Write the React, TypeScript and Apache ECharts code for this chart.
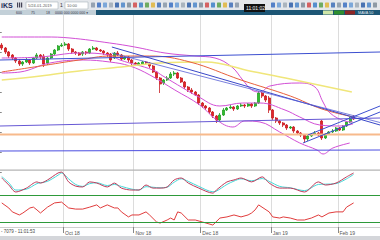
import React, { useEffect, useRef } from "react";
import * as echarts from "echarts";

// ---- candle data (price units) ----
const opens = [
  167, 164, 160, 157, 154, 151, 148, 150, 152, 149,
  154, 157, 156, 149, 154, 158, 162, 166, 167, 168,
  163, 160, 159, 158, 160, 159, 163, 164, 162, 161,
  159, 158, 154, 159, 157, 153, 155, 152, 149, 147,
  148, 150, 149, 146, 140, 134, 129, 132, 134, 138,
  139, 134, 130, 125, 122, 120, 117, 109, 106, 104,
  100, 96, 92, 97, 102, 104, 105, 103, 106, 107,
  106, 108, 106, 109, 119, 116, 114, 102, 94, 91,
  89, 87, 84, 85, 81, 79, 77, 73, 76, 78,
  79, 91, 74, 78, 80, 81, 84, 82, 86, 90, 95,
];
const closes = [
  164, 160, 156, 154, 151, 148, 150, 152, 149, 154,
  157, 155, 148, 154, 158, 162, 166, 167, 168, 163,
  160, 159, 157, 160, 159, 163, 164, 162, 161, 159,
  157, 152, 159, 157, 153, 155, 152, 149, 148, 149,
  150, 149, 146, 140, 134, 128, 132, 134, 138, 139,
  134, 130, 125, 122, 120, 117, 109, 106, 104, 100,
  96, 92, 97, 102, 104, 105, 103, 106, 107, 106,
  108, 106, 109, 119, 116, 112, 102, 94, 91, 89,
  87, 84, 85, 81, 79, 77, 73, 76, 78, 79,
  77, 74, 78, 80, 81, 84, 82, 86, 90, 94, 93,
];
const lows = [
  162, 158, 154, 152, 149, 146, 146, 149, 147, 148,
  153, 153, 145, 147, 153, 157, 161, 165, 166, 161,
  158, 157, 156, 156, 157, 158, 162, 161, 160, 157,
  155, 150, 153, 156, 151, 152, 150, 146, 146, 146,
  147, 148, 144, 139, 132, 119, 127, 131, 133, 136,
  133, 129, 123, 120, 118, 116, 107, 104, 102, 98,
  94, 89, 91, 96, 101, 103, 101, 102, 105, 104,
  105, 104, 105, 108, 114, 110, 99, 92, 89, 87,
  85, 82, 83, 79, 77, 75, 69, 71, 75, 77,
  76, 72, 73, 77, 79, 80, 81, 81, 85, 89, 92,
];
const highs = [
  169, 165, 161, 158, 155, 153, 151, 154, 153, 155,
  159, 158, 158, 155, 159, 163, 167, 169, 170, 169,
  164, 161, 160, 161, 161, 164, 166, 165, 163, 162,
  160, 159, 160, 161, 158, 156, 156, 153, 150, 150,
  151, 151, 150, 147, 141, 135, 133, 136, 140, 141,
  140, 135, 131, 126, 124, 121, 118, 110, 107, 105,
  101, 97, 99, 104, 105, 107, 106, 107, 109, 108,
  109, 109, 110, 121, 120, 117, 116, 103, 95, 92,
  90, 88, 86, 86, 82, 80, 78, 77, 79, 81,
  80, 92, 79, 81, 83, 85, 85, 87, 91, 95, 97,
];
const SLOTS = 108;

// ---- time axis ticks ----
const tickIndices = [18, 38, 57, 77, 96];
const tickLabels = ["Oct 18", "Nov 18", "Dec 18", "Jan 19", "Feb 19"];

// ---- overlay lines [slot, price] ----
const topLine = [[-0.5, 152], [107.5, 160]];
const fallLine1 = [[31.3, 165], [107.5, 87]];
const fallLine2 = [[31.3, 159], [107.5, 89.5]];
const midLevel = [[-0.5, 86], [107.5, 94]];
const orangeLevel = [[-0.5, 77.5], [107.5, 77.5]];
const lowLevel = [[-0.5, 61], [107.5, 62]];
const channelLow = [[85.6, 69], [107.5, 100]];
const channelHigh = [[87, 77], [107.5, 106]];
const emaLine = [[0, 140], [11, 146], [22, 152], [31, 156], [42, 156], [53.5, 150], [68, 132], [82, 116], [91, 103], [100, 95]];
const smaLine = [[0, 132], [11, 136], [22, 141], [34, 145], [45, 149], [58, 150], [70.5, 141], [82, 133], [99.5, 120]];
const bbUpper = [[0, 175], [12.3, 175], [19.4, 174], [30.7, 169], [37.8, 165], [46.4, 159], [54.9, 156], [60.6, 154], [65.4, 145], [68.5, 132], [71.1, 122], [73.4, 120], [76.2, 126], [84.7, 129], [89, 125], [91.3, 110], [93.3, 99], [97.5, 91], [99.8, 90]];
const bbMid = [[0, 154], [10.9, 155], [22.2, 159], [30.7, 157], [33.6, 152], [43, 142], [45.8, 136], [51.5, 124], [55.5, 116], [62, 106], [68.5, 109], [73.4, 109], [80.5, 102], [84.7, 95], [90.4, 87], [96.1, 86], [99.8, 88]];
const bbLower = [[0, 139], [5.2, 140], [13.7, 149], [23.1, 152], [30.7, 150], [36.4, 146], [42.1, 137], [49.2, 122], [56.3, 107], [61.1, 92], [65.7, 85], [69.1, 91], [73.4, 90], [79, 80], [84.7, 69], [89.6, 62], [91.3, 58], [94.1, 64], [98.9, 69]];

// ---- oscillators [slot, value] ----
const oscMain = [[0, 75], [2, 50], [4, 25], [7, 39], [10, 61], [11, 57], [13, 68], [16, 93], [17, 96], [19, 61], [21, 46], [23, 43], [25, 61], [27, 57], [30, 43], [32, 57], [34, 39], [37, 32], [39, 32], [41, 50], [43, 39], [45, 39], [47, 43], [49, 68], [51, 75], [53, 57], [56, 39], [60, 21], [61, 32], [64, 61], [66, 68], [68, 75], [71, 61], [74, 79], [76, 57], [79, 39], [82, 39], [86, 25], [90, 61], [92, 50], [95, 57], [98, 79], [100, 93]];
const oscSignal = [[0, 80], [2, 58], [4, 32], [7, 35], [10, 55], [11, 58], [13, 63], [16, 85], [17, 93], [19, 72], [21, 52], [23, 45], [25, 55], [27, 58], [30, 48], [32, 52], [34, 45], [37, 35], [39, 32], [41, 44], [43, 42], [45, 40], [47, 42], [49, 60], [51, 72], [53, 63], [56, 45], [60, 26], [61, 28], [64, 52], [66, 64], [68, 72], [71, 65], [74, 73], [76, 63], [79, 45], [82, 40], [86, 30], [90, 52], [92, 53], [95, 55], [98, 72], [100, 88]];
const osc2 = [[0, 86], [2, 68], [3, 54], [5, 43], [6, 50], [8, 68], [9, 71], [10, 61], [11, 50], [13, 71], [15, 86], [17, 89], [19, 68], [21, 64], [23, 64], [25, 71], [27, 79], [28, 68], [30, 79], [32, 68], [33, 68], [34, 54], [36, 36], [37, 43], [39, 43], [41, 54], [42, 43], [44, 18], [45, 14], [47, 25], [48, 32], [49, 25], [50, 54], [51, 50], [53, 25], [55, 25], [57, 18], [60, 7], [62, 32], [64, 36], [66, 43], [68, 36], [70, 43], [71, 50], [72, 61], [73, 79], [76, 54], [77, 36], [79, 32], [80, 36], [82, 32], [84, 25], [86, 25], [88, 32], [90, 43], [91, 36], [93, 50], [95, 54], [97, 54], [98, 71], [100, 86]];

const toolIconColors = ["#8896a8", "#3b6fc2", "#6a9bd6", "#a0aab6", "#2f5ea8", "#4d86c9", "#7f8c99", "#d24a4a", "#3d7fc8", "#5aa04a", "#e0b43a", "#3f6fb8"];

const FONT = "Liberation Sans, DejaVu Sans, sans-serif";

function lineSeries(name: string, data: number[][], color: string, width: number, smooth: boolean | number, xi: number, yi: number, extra: any = {}) {
  return {
    name,
    type: "line",
    data,
    xAxisIndex: xi,
    yAxisIndex: yi,
    symbol: "none",
    smooth,
    silent: true,
    lineStyle: { color, width },
    ...extra,
  };
}

export default function App() {
  const ref = useRef<HTMLDivElement>(null);
  useEffect(() => {
    if (!ref.current) return;
    const chart = echarts.init(ref.current, undefined, { renderer: "svg" });
    const cats = Array.from({ length: SLOTS }, (_, i) => String(i));
    const isTick = (index: number) => tickIndices.includes(index);
    const splitLine = { show: true, interval: isTick, lineStyle: { color: "#dcdcdc", width: 1 } };
    const catAxis = (gridIndex: number, showLabels: boolean) => ({
      type: "category",
      gridIndex,
      data: cats,
      boundaryGap: true,
      axisLine: { show: showLabels, lineStyle: { color: "#cfcfcf" } },
      axisTick: showLabels ? { show: true, interval: isTick, length: 6, lineStyle: { color: "#888" } } : { show: false },
      axisLabel: showLabels
        ? {
            show: true,
            interval: isTick,
            align: "left",
            margin: 3,
            fontSize: 5,
            color: "#555",
            fontFamily: FONT,
            formatter: (_v: string, idx: number) => {
              const p = tickIndices.indexOf(idx);
              return p >= 0 ? tickLabels[p] : "";
            },
          }
        : { show: false },
      splitLine,
    });
    const valAxis = (gridIndex: number) => ({
      type: "value",
      gridIndex,
      min: -0.5,
      max: SLOTS - 0.5,
      show: false,
      splitLine: { show: false },
    });

    const icons: any[] = [];
    let ci = 0;
    for (let x = 91; x < 376; x += 6) {
      if (x > 238 && x < 268) continue;
      icons.push({
        type: "rect",
        z: 101,
        shape: { x, y: 2.5, width: 4, height: 5, r: 0.6 },
        style: { fill: toolIconColors[ci % toolIconColors.length], opacity: 0.85 },
      });
      ci++;
    }

    const graphic: any[] = [
      { type: "rect", z: 100, shape: { x: 0, y: 0, width: 380, height: 10 }, style: { fill: "#e4e7eb" } },
      { type: "rect", z: 100, shape: { x: 0, y: 10, width: 96, height: 5 }, style: { fill: "#c3d0d8" } },
      { type: "rect", z: 100, shape: { x: 96, y: 10, width: 284, height: 5 }, style: { fill: "#1d5675" } },
      { type: "text", z: 101, x: 1, y: 1.5, style: { text: "iKS", fontSize: 7, fontWeight: "bold", fill: "#1c2c55", fontFamily: FONT } },
      { type: "rect", z: 101, shape: { x: 17, y: 2.5, width: 1.2, height: 5 }, style: { fill: "#445" } },
      { type: "rect", z: 101, shape: { x: 19, y: 2.5, width: 1.2, height: 5 }, style: { fill: "#445" } },
      { type: "rect", z: 101, shape: { x: 21, y: 2.5, width: 1.2, height: 5 }, style: { fill: "#445" } },
      { type: "rect", z: 101, shape: { x: 26, y: 2, width: 32, height: 7 }, style: { fill: "#ffffff", stroke: "#9aa4ae", lineWidth: 0.5 } },
      { type: "text", z: 102, x: 28, y: 3.5, style: { text: "5/24-01-2019", fontSize: 4, fill: "#555", fontFamily: FONT } },
      { type: "text", z: 102, x: 60, y: 2.5, style: { text: "1", fontSize: 5, fill: "#333", fontFamily: FONT } },
      { type: "rect", z: 101, shape: { x: 65, y: 2, width: 23, height: 7 }, style: { fill: "#ffffff", stroke: "#9aa4ae", lineWidth: 0.5 } },
      { type: "text", z: 102, x: 67, y: 3.5, style: { text: "10:00", fontSize: 4, fill: "#555", fontFamily: FONT } },
      ...icons,
      { type: "rect", z: 103, shape: { x: 244, y: 4, width: 21, height: 8 }, style: { fill: "#111111" } },
      { type: "text", z: 104, x: 246, y: 5.5, style: { text: "11:01:02", fontSize: 5, fill: "#ffffff", fontFamily: FONT } },
      { type: "text", z: 101, x: 16, y: 10.7, style: { text: "600", fontSize: 3.5, fill: "#334", fontFamily: FONT } },
      { type: "text", z: 101, x: 31, y: 10.7, style: { text: "75", fontSize: 3.5, fill: "#334", fontFamily: FONT } },
      { type: "text", z: 101, x: 46, y: 10.7, style: { text: "18", fontSize: 3.5, fill: "#334", fontFamily: FONT } },
      { type: "text", z: 101, x: 55, y: 10.7, style: { text: "0000 000 0000 000 ▾", fontSize: 3.5, fill: "#334", fontFamily: FONT } },
      { type: "rect", z: 101, shape: { x: 323, y: 10.5, width: 10, height: 4 }, style: { fill: "#cfe6a8" } },
      { type: "rect", z: 101, shape: { x: 334, y: 10.5, width: 10, height: 4 }, style: { fill: "#2f8f2f" } },
      { type: "rect", z: 101, shape: { x: 345, y: 10.5, width: 10, height: 4 }, style: { fill: "#8e2626" } },
      { type: "text", z: 102, x: 358, y: 10.6, style: { text: "MAVA 50", fontSize: 3.8, fill: "#e2eaf0", fontFamily: FONT } },
      { type: "rect", z: 100, shape: { x: 0, y: 169.5, width: 380, height: 1.2 }, style: { fill: "#b4b4b4" } },
      { type: "text", z: 101, x: 1, y: 228.5, style: { text: "- 7079 - 11:01:53", fontSize: 4.5, fill: "#444", fontFamily: FONT } },
      { type: "rect", z: 100, shape: { x: 0, y: 236, width: 380, height: 4 }, style: { fill: "#d4d6da" } },
    ];

    const greenMark = (v: number) => ({
      silent: true,
      symbol: "none",
      label: { show: false },
      lineStyle: { color: "#2e9a3a", width: 1, type: "solid" },
      data: [{ yAxis: v }],
    });

    chart.setOption({
      animation: false,
      backgroundColor: "#ffffff",
      grid: [
        { left: 0, right: 0, top: 12, height: 160 },
        { left: 0, right: 0, top: 171, height: 28 },
        { left: 0, right: 0, top: 199, height: 28 },
      ],
      xAxis: [catAxis(0, false), valAxis(0), catAxis(1, false), valAxis(1), catAxis(2, true), valAxis(2)],
      yAxis: [
        {
          type: "value",
          gridIndex: 0,
          min: 40,
          max: 200,
          interval: 20,
          position: "right",
          axisLine: { show: false },
          axisTick: { show: true, inside: true, length: 3, lineStyle: { color: "#888" } },
          axisLabel: { show: false },
          splitLine: { show: false },
        },
        { type: "value", gridIndex: 1, min: 0, max: 100, show: false, splitLine: { show: false } },
        { type: "value", gridIndex: 2, min: 0, max: 100, show: false, splitLine: { show: false } },
      ],
      graphic,
      series: [
        lineSeries("bbUpper", bbUpper, "#d24fd6", 1, 0.4, 1, 0),
        lineSeries("bbMid", bbMid, "#d24fd6", 1, 0.4, 1, 0),
        lineSeries("bbLower", bbLower, "#d24fd6", 1, 0.4, 1, 0),
        lineSeries("sma", smaLine, "#f0e67a", 1.5, 0.4, 1, 0),
        lineSeries("ema", emaLine, "#e8603c", 1, 0.4, 1, 0),
        lineSeries("orangeLevel", orangeLevel, "#f7ba8c", 2.2, false, 1, 0),
        lineSeries("topLine", topLine, "#3c4fd0", 1, false, 1, 0),
        lineSeries("midLevel", midLevel, "#6658d4", 1, false, 1, 0),
        lineSeries("lowLevel", lowLevel, "#4b4de0", 1, false, 1, 0),
        lineSeries("fall1", fallLine1, "#3a48c8", 1, false, 1, 0),
        lineSeries("fall2", fallLine2, "#5860d6", 0.8, false, 1, 0),
        lineSeries("chanLow", channelLow, "#3c4fd0", 1, false, 1, 0),
        lineSeries("chanHigh", channelHigh, "#3c4fd0", 1, false, 1, 0),
        {
          name: "price",
          type: "candlestick",
          xAxisIndex: 0,
          yAxisIndex: 0,
          barWidth: "72%",
          silent: true,
          data: opens.map((o, i) => [o, closes[i], lows[i], highs[i]]),
          itemStyle: { color: "#2fbf2f", color0: "#e2262b", borderColor: "#24a024", borderColor0: "#c81d22", borderWidth: 0.8 },
        },
        lineSeries("oscSignal", oscSignal, "#45d8d8", 1, 0.3, 3, 1),
        lineSeries("oscMain", oscMain, "#c03a5a", 1, 0.3, 3, 1, { markLine: greenMark(15) }),
        lineSeries("osc2", osc2, "#e03c3c", 1, false, 5, 2, { markLine: greenMark(18) }),
      ],
    });
    return () => chart.dispose();
  }, []);
  return <div ref={ref} style={{ position: "fixed", left: 0, top: 0, width: 380, height: 240 }} />;
}
